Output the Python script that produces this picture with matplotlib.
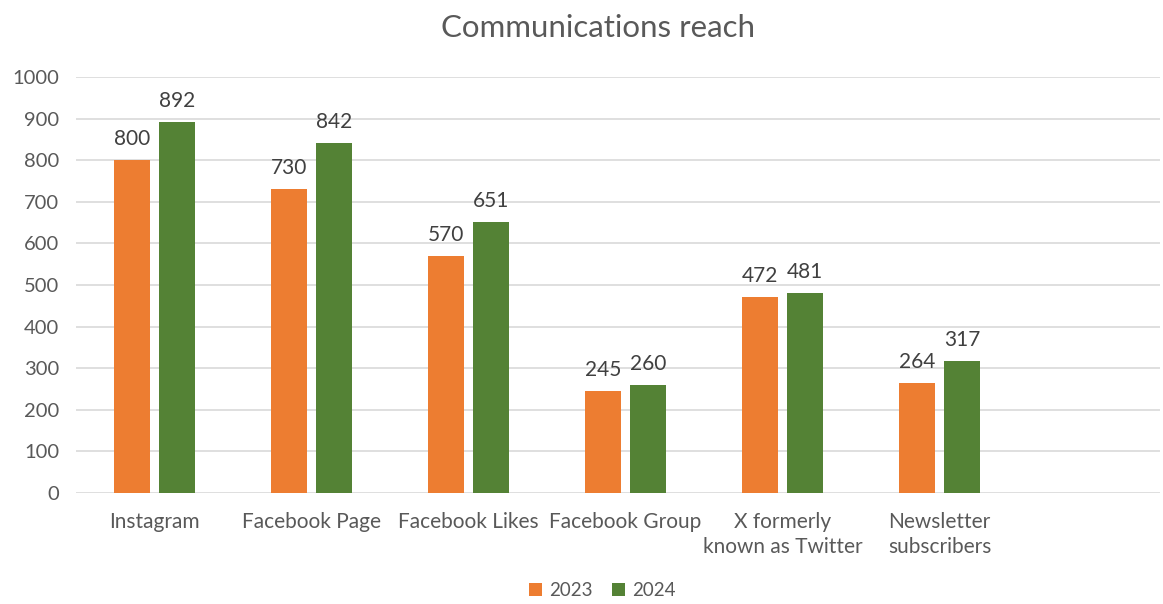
import matplotlib.pyplot as plt
import numpy as np

categories = ["Instagram", "Facebook Page", "Facebook Likes", "Facebook Group",
              "X formerly\nknown as Twitter", "Newsletter\nsubscribers"]
years = ["2023", "2024"]
values_2023 = [800, 730, 570, 245, 472, 264]
values_2024 = [892, 842, 651, 260, 481, 317]

plt.rcParams['font.family'] = ['Lato', 'DejaVu Sans']
text_col = "#595959"

fig = plt.figure(figsize=(11.63, 6.04), dpi=100)
ax = fig.add_axes([0.0653, 0.1838, 0.9317, 0.6887])

x = np.arange(len(categories))
w = 0.229
off = 0.143
b1 = ax.bar(x - off, values_2023, w, color="#ED7D31", label=years[0], zorder=3)
b2 = ax.bar(x + off, values_2024, w, color="#548235", label=years[1], zorder=3)
for bars in (b1, b2):
    ax.bar_label(bars, padding=8, fontsize=15, color="#404040")

# axis runs most of an empty slot past the last category
ax.set_xlim(-0.5, len(categories) + 0.4)
ax.set_ylim(0, 1000)
ax.set_yticks(range(0, 1001, 100))
ax.set_xticks(x)
ax.set_xticklabels(categories, linespacing=1.3)
ax.tick_params(axis='x', length=0, labelsize=15, colors=text_col, pad=14)
ax.tick_params(axis='y', length=0, labelsize=14.5, colors=text_col, pad=12)
ax.grid(axis='y', color="#D9D9D9", linewidth=1.2, zorder=0)
for s in ax.spines.values():
    s.set_visible(False)

fig.text(0.514, 0.953, "Communications reach", fontsize=22.5, color=text_col,
         ha="center", va="center")
fig.legend(loc="lower center", ncol=2, frameon=False, fontsize=13.5,
           bbox_to_anchor=(0.518, -0.02), handlelength=0.7, handleheight=0.7,
           columnspacing=1.0, handletextpad=0.4, labelcolor=text_col)

fig.savefig("out.png", dpi=100)
